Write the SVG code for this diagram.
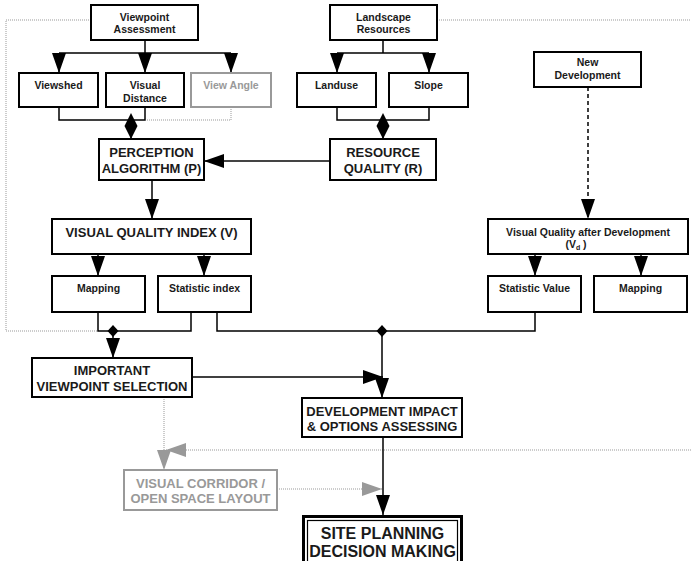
<svg xmlns="http://www.w3.org/2000/svg" width="691" height="561" viewBox="0 0 691 561">
  <style>
    .box { fill: #fff; stroke: #000; stroke-width: 2; }
    .gbox { fill: #fff; stroke: #999; stroke-width: 2; }
    text { font-family: "Liberation Sans", Arial, sans-serif; font-weight: bold; text-anchor: middle; fill: #1a1a1a; }
    .s { font-size: 10.5px; }
    .m { font-size: 13px; }
    .l { font-size: 16px; }
    .g { fill: #999; }
    .ln { fill: none; stroke: #000; stroke-width: 1.5; }
    .dk { fill: none; stroke: #444; stroke-width: 2; }
    .dash { fill: none; stroke: #000; stroke-width: 1.5; stroke-dasharray: 4 3; }
    .dot { fill: none; stroke: #999; stroke-width: 1; stroke-dasharray: 1 1; }
    .arr { marker-end: url(#arrow); }
    .garr { marker-end: url(#garrow); }
    .dia { marker-end: url(#diamond); }
  </style>
  <defs>
    <marker id="arrow" markerUnits="userSpaceOnUse" markerWidth="21" markerHeight="14" refX="20" refY="7" orient="auto">
      <path d="M0,0 L20,7 L0,14 z" fill="#000"/>
    </marker>
    <marker id="garrow" markerUnits="userSpaceOnUse" markerWidth="21" markerHeight="14" refX="20" refY="7" orient="auto">
      <path d="M0,0 L20,7 L0,14 z" fill="#999"/>
    </marker>
    <marker id="diamond" markerUnits="userSpaceOnUse" markerWidth="27" markerHeight="14" refX="26" refY="7" orient="auto">
      <path d="M0,7 L13,0.5 L26,7 L13,13.5 z" fill="#000"/>
    </marker>
    <path id="sdia" d="M0,-6 L5.5,0 L0,6 L-5.5,0 z" fill="#000"/>
  </defs>

  <!-- connectors -->
  <g id="connectors">
    <!-- feedback loops (dotted) -->
    <path class="dot" d="M91,20 H6 V331 H98"/>
    <path class="dot" d="M437,20 H691"/>
    <path class="dot garr" d="M691,450 H166"/>
    <path class="dot garr" d="M164,397 V470"/>
    <path class="dot garr" d="M277,489 H382"/>

    <!-- viewpoint assessment branches -->
    <path class="ln" d="M145,40 V53 M59,53 H231"/>
    <path class="ln arr" d="M59,53 V73"/>
    <path class="ln arr" d="M145,53 V73"/>
    <path class="ln arr" d="M231,53 V73"/>
    <path class="ln" d="M59,107 V120 H145 V107"/>
    <path class="dot" d="M231,107 V120 H147"/>
    <path class="ln dia" d="M131,120 V139"/>

    <!-- landscape resources branches -->
    <path class="ln" d="M383,40 V53 M337,53 H429"/>
    <path class="ln arr" d="M337,53 V73"/>
    <path class="ln arr" d="M429,53 V73"/>
    <path class="ln" d="M337,107 V120 H429 V107"/>
    <path class="ln dia" d="M383,120 V139"/>

    <!-- resource quality into perception -->
    <path class="dk arr" d="M330,161 H204"/>
    <path class="ln arr" d="M152,180 V219"/>

    <!-- index outputs -->
    <path class="ln arr" d="M98,254 V276"/>
    <path class="ln arr" d="M204,254 V276"/>

    <!-- new development -->
    <path class="dash arr" d="M588,87 V219"/>
    <path class="ln arr" d="M535,254 V276"/>
    <path class="ln arr" d="M641,254 V276"/>

    <!-- merges -->
    <path class="ln" d="M98,312 V331 H191 V312"/>
    <use href="#sdia" x="113" y="331"/>
    <path class="ln arr" d="M113,336 V358"/>
    <path class="ln" d="M217,312 V331 H535 V312"/>
    <use href="#sdia" x="382" y="331"/>
    <path class="ln arr" d="M382,336 V398"/>
    <path class="ln arr" d="M192,377 H383"/>

    <!-- to decision -->
    <path class="ln arr" d="M383,437 V515"/>
  </g>

  <g id="viewpoint-assessment">
    <rect class="box" x="91" y="5" width="107" height="35"/>
    <text class="s" x="144.5" y="21">Viewpoint</text>
    <text class="s" x="144.5" y="33">Assessment</text>
  </g>
  <g id="landscape-resources">
    <rect class="box" x="330" y="5" width="107" height="35"/>
    <text class="s" x="383.5" y="21">Landscape</text>
    <text class="s" x="383.5" y="33">Resources</text>
  </g>
  <g id="viewshed">
    <rect class="box" x="19" y="73" width="79" height="34"/>
    <text class="s" x="58.5" y="89">Viewshed</text>
  </g>
  <g id="visual-distance">
    <rect class="box" x="106" y="73" width="78" height="34"/>
    <text class="s" x="145" y="89">Visual</text>
    <text class="s" x="145" y="102">Distance</text>
  </g>
  <g id="view-angle">
    <rect class="gbox" x="191" y="73" width="80" height="34"/>
    <text class="s g" x="231" y="89">View Angle</text>
  </g>
  <g id="landuse">
    <rect class="box" x="297" y="73" width="79" height="34"/>
    <text class="s" x="336.5" y="89">Landuse</text>
  </g>
  <g id="slope">
    <rect class="box" x="389" y="73" width="79" height="34"/>
    <text class="s" x="428.5" y="89">Slope</text>
  </g>
  <g id="new-development">
    <rect class="box" x="534" y="52" width="107" height="35"/>
    <text class="s" x="587.5" y="66">New</text>
    <text class="s" x="587.5" y="79">Development</text>
  </g>
  <g id="perception-algorithm">
    <rect class="box" x="99" y="139" width="105" height="41"/>
    <text class="m" x="151.5" y="157">PERCEPTION</text>
    <text class="m" x="151.5" y="173">ALGORITHM (P)</text>
  </g>
  <g id="resource-quality">
    <rect class="box" x="330" y="139" width="106" height="41"/>
    <text class="m" x="383" y="157">RESOURCE</text>
    <text class="m" x="383" y="173">QUALITY (R)</text>
  </g>
  <g id="visual-quality-index">
    <rect class="box" x="52" y="219" width="199" height="35"/>
    <text class="m" x="151.5" y="237">VISUAL QUALITY INDEX (V)</text>
  </g>
  <g id="visual-quality-after">
    <rect class="box" x="488" y="219" width="200" height="35"/>
    <text class="s" x="588" y="236">Visual Quality after Development</text>
    <text class="s" x="576" y="248">(V<tspan font-size="7" dy="2">d</tspan><tspan dy="-2"> )</tspan></text>
  </g>
  <g id="mapping-left">
    <rect class="box" x="52" y="276" width="93" height="36"/>
    <text class="s" x="98.5" y="292">Mapping</text>
  </g>
  <g id="statistic-index">
    <rect class="box" x="158" y="276" width="93" height="36"/>
    <text class="s" x="204.5" y="292">Statistic index</text>
  </g>
  <g id="statistic-value">
    <rect class="box" x="488" y="276" width="93" height="36"/>
    <text class="s" x="534.5" y="292">Statistic Value</text>
  </g>
  <g id="mapping-right">
    <rect class="box" x="594" y="276" width="93" height="36"/>
    <text class="s" x="640.5" y="292">Mapping</text>
  </g>
  <g id="important-viewpoint">
    <rect class="box" x="32" y="358" width="160" height="39"/>
    <text class="m" x="112" y="375">IMPORTANT</text>
    <text class="m" x="112" y="391">VIEWPOINT SELECTION</text>
  </g>
  <g id="development-impact">
    <rect class="box" x="302" y="398" width="160" height="39"/>
    <text class="m" x="382" y="416">DEVELOPMENT IMPACT</text>
    <text class="m" x="382" y="431">&amp; OPTIONS ASSESSING</text>
  </g>
  <g id="visual-corridor">
    <rect class="gbox" x="124" y="470" width="153" height="40"/>
    <text class="m g" x="200.5" y="488">VISUAL CORRIDOR /</text>
    <text class="m g" x="200.5" y="503">OPEN SPACE LAYOUT</text>
  </g>
  <g id="site-planning">
    <rect x="303.5" y="516.5" width="158" height="60" fill="#fff" stroke="#000" stroke-width="3"/>
    <rect x="307.5" y="520.5" width="150" height="52" fill="none" stroke="#000" stroke-width="1.2"/>
    <text class="l" x="382.5" y="539">SITE PLANNING</text>
    <text class="l" x="382.5" y="557">DECISION MAKING</text>
  </g>
</svg>
